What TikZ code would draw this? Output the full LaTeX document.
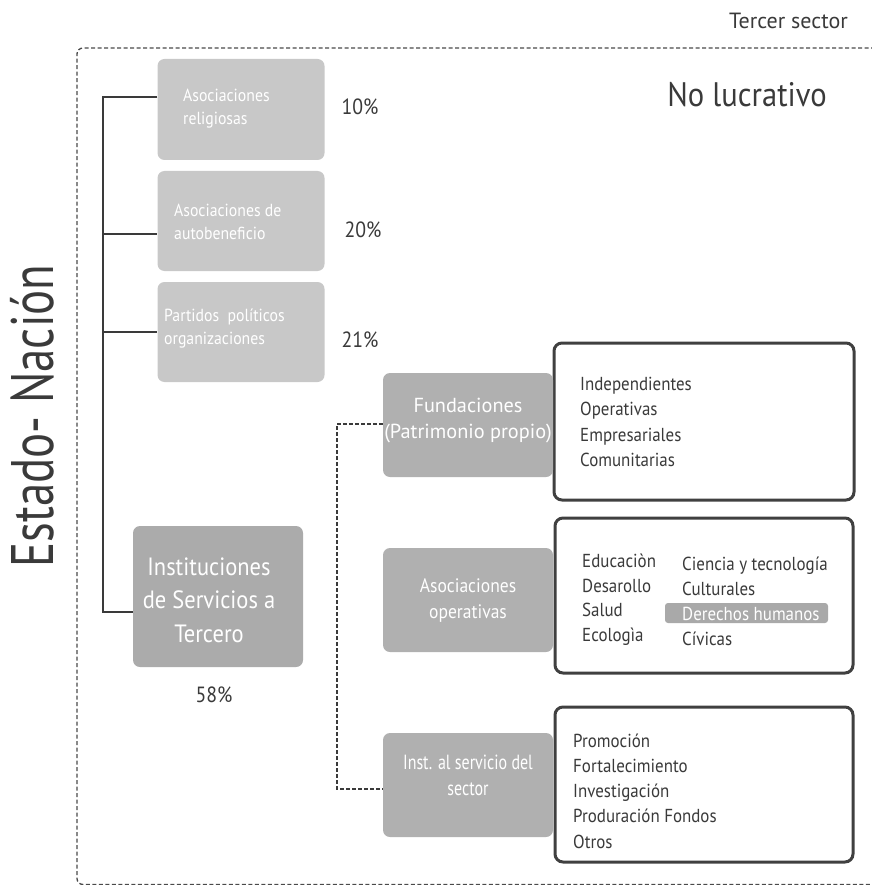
\documentclass[tikz,border=0pt]{standalone}
\usepackage{fontspec}
\setmainfont{PT Sans}[FakeStretch=0.9]
\newfontfamily\widefont{PT Sans}
\newfontfamily\condfont{PT Sans}[FakeStretch=0.78]
\definecolor{ink}{HTML}{3A3A3A}
\definecolor{boxlight}{HTML}{C8C8C8}
\definecolor{boxmid}{HTML}{B0B0B0}
\definecolor{boxdark}{HTML}{ABABAB}
\definecolor{frameline}{HTML}{4A4A4A}
\definecolor{listline}{HTML}{404040}
\definecolor{hilite}{HTML}{A9A9A9}
\newcommand{\fsz}[2]{\fontsize{#1}{#2}\selectfont}
\begin{document}
\begin{tikzpicture}[x=1pt,y=-1pt,
  shapebox/.style={rectangle, inner sep=0pt, rounded corners=7pt, draw=none},
  lightbox/.style={shapebox, fill=boxlight, minimum width=167pt},
  midbox/.style={shapebox, fill=boxmid, minimum width=170pt, minimum height=104pt},
  listbox/.style={rectangle, inner sep=0pt, rounded corners=8pt, draw=listline, line width=3pt, fill=white},
  whitetxt/.style={inner sep=0pt, text=white},
  inktxt/.style={inner sep=0pt, text=ink},
  pct/.style={inktxt, font=\fsz{22}{26}},
  boxtxt/.style={whitetxt, anchor=west, align=left, font=\fsz{17.5}{23}},
  listtxt/.style={inktxt, anchor=west, align=left, font=\fsz{18.8}{25.5}},
  frame/.style={draw=frameline, line width=1.3pt, dash pattern=on 4pt off 2.5pt},
  linkdash/.style={draw=ink, line width=1.2pt, dash pattern=on 3.5pt off 2.5pt},
  bracket/.style={draw=ink, line width=1.2pt}]
\useasboundingbox (0,0) rectangle (871,885);

% outer dashed frame
\draw[frame, rounded corners=6pt] (875,48) -- (77,48) -- (77,884.5) -- (875,884.5);

% headings
\node[inktxt, anchor=east, font=\widefont\fsz{22}{26}] (tercer) at (848,21) {Tercer sector};
\node[inktxt, font=\fsz{34}{40}] (nolucro) at (747,95) {No lucrativo};
\node[inktxt, rotate=90, font=\condfont\fsz{60}{70}] (estado) at (32,416) {Estado- Nación};

% left column of boxes
\node[lightbox, minimum height=101pt] (b1) at (241,109.5) {};
\node[lightbox, minimum height=100pt] (b2) at (241,221) {};
\node[lightbox, minimum height=100pt] (b3) at (241,332) {};
\node[boxtxt] (b1t) at (183,108.5) {Asociaciones\\religiosas};
\node[boxtxt] (b2t) at (174,221.5) {Asociaciones de\\autobeneficio};
\node[boxtxt] (b3t) at (164,328.5) {Partidos\ \ políticos\\organizaciones};
\node[pct] (p1) at (360,107) {10\%};
\node[pct] (p2) at (363,230) {20\%};
\node[pct] (p3) at (360,340) {21\%};

\node[shapebox, fill=boxdark, minimum width=170pt, minimum height=141pt] (inst) at (218,596.5) {};
\node[whitetxt, align=center, font=\fsz{25}{33.5}] (instt) at (209,600) {Instituciones\\de Servicios a\\Tercero};
\node[pct] (p4) at (214,695) {58\%};

% bracket joining the left boxes
\coordinate (k1) at (103,97);
\coordinate (k2) at (103,234);
\coordinate (k3) at (103,332);
\coordinate (k4) at (103,612);
\draw[bracket] (k1 -| b1.west) -- (k1) -- (k4) -- (k4 -| inst.west);
\draw[bracket] (k2) -- (k2 -| b2.west);
\draw[bracket] (k3) -- (k3 -| b3.west);

% right column: list boxes
\node[listbox, minimum width=300pt, minimum height=157pt] (l1) at (704,421.5) {};
\node[listbox, minimum width=298pt, minimum height=155pt] (l2) at (704,595.5) {};
\node[listbox, minimum width=298pt, minimum height=155pt] (l3) at (704,784.5) {};

% right column: grey boxes
\node[midbox] (fund) at (468,425) {};
\node[midbox] (asoc) at (468,600) {};
\node[midbox] (serv) at (468,785) {};
\node[whitetxt, align=center, font=\widefont\fsz{20.3}{26}] (fundt) at (468,421) {Fundaciones\\(Patrimonio propio)};
\node[whitetxt, align=center, font=\fsz{19.5}{26}] (asoct) at (468,601) {Asociaciones\\operativas};
\node[whitetxt, align=center, font=\condfont\fsz{20.5}{26}] (servt) at (468,775) {Inst. al servicio del\\sector};

% dashed link between the grey boxes
\coordinate (d1) at (337,424);
\coordinate (d2) at (337,789);
\draw[linkdash] (fund.west |- d1) -- (d1) -- (d2) -- (d2 -| serv.west);

% list contents
\node[listtxt] (l1t) at (580,422) {Independientes\\Operativas\\Empresariales\\Comunitarias};
\node[listtxt, font=\fsz{18.8}{24.5}] (l2a) at (582,599.5) {Educaciòn\\Desarollo\\Salud\\Ecologìa};
\node[shapebox, rounded corners=3pt, fill=hilite, minimum width=163pt, minimum height=20pt] (hl) at (746.5,613) {};
\node[listtxt, font=\fsz{18.8}{25}] (l2b) at (682,601.5) {Ciencia y tecnología\\Culturales\\\textcolor{white}{Derechos humanos}\\Cívicas};
\node[listtxt, font=\fsz{18.8}{25.2}] (l3t) at (573,791) {Promoción\\Fortalecimiento\\Investigación\\Produración Fondos\\Otros};
\end{tikzpicture}
\end{document}
